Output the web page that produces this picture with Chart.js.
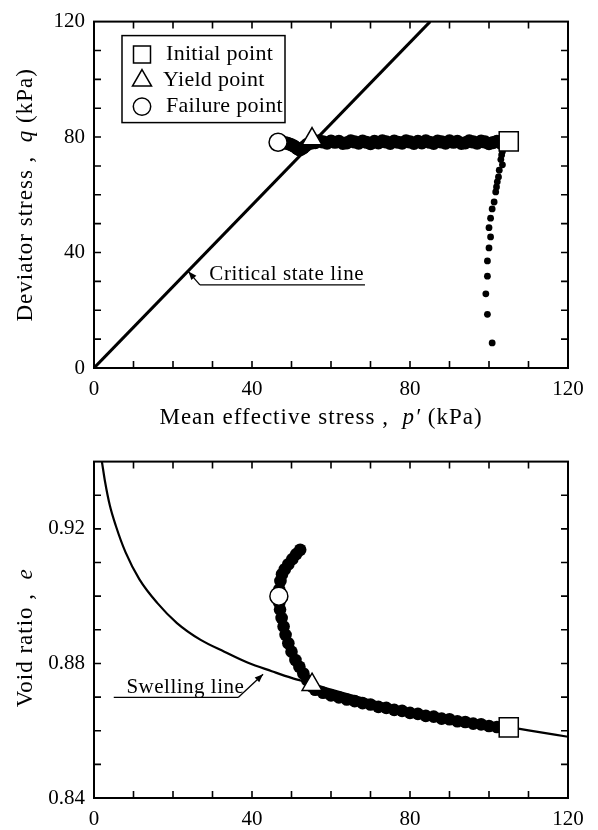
<!DOCTYPE html>
<html><head><meta charset="utf-8">
<script src="https://cdn.jsdelivr.net/npm/chart.js@4/dist/chart.umd.min.js"></script>
<style>
html,body{margin:0;padding:0;background:#fff;}
body{width:598px;height:830px;position:relative;overflow:hidden;}
canvas{position:absolute;left:0;}
</style>
</head><body>
<canvas id="c1" width="598" height="440" style="top:0px"></canvas>
<canvas id="c2" width="598" height="390" style="top:440px"></canvas>
<script>
// ---------- DATA ----------
const xTicksLabelled = [0, 40, 80, 120];
const qTicksLabelled = [0, 40, 80, 120];
const eTicksLabelled = [0.84, 0.88, 0.92];

const legendLabels = ['Initial point', 'Yield point', 'Failure point'];

// Top panel: p' (kPa), q (kPa)
const cslLine = [[0, 0], [85.1, 120]];
const loadPathTop = [[100.8, 8.7], [99.6, 18.6], [99.2, 25.7], [99.6, 31.8], [99.6, 37.1], [100.0, 41.6],
  [100.4, 45.4], [100.0, 48.6], [100.4, 51.9], [100.8, 55.1], [101.3, 57.5], [101.7, 61.0], [101.9, 62.7],
  [102.1, 64.5], [102.4, 66.2], [102.6, 68.5], [103.4, 70.4], [103.0, 72.2], [103.2, 73.8], [103.4, 75.0], [103.8, 76.5]];
const shearPathTop = [[104, 78.3], [103, 77.9], [102, 78.5], [101, 78.1], [100, 77.7], [99, 78.3], [98, 78.6],
  [97, 77.9], [96, 78.3], [95, 78.7], [94, 78.0], [93, 77.8], [92, 78.5], [91, 78.2], [90, 78.7], [89, 77.9],
  [88, 78.3], [87, 78.6], [86, 77.8], [85, 78.2], [84, 78.7], [83, 78.0], [82, 78.5], [81, 77.8], [80, 78.3],
  [79, 78.7], [78, 77.9], [77, 78.2], [76, 78.6], [75, 77.8], [74, 78.3], [73, 78.7], [72, 78.0], [71, 78.5],
  [70, 77.7], [69, 78.2], [68, 78.6], [67, 77.9], [66, 78.3], [65, 78.7], [64, 78.0], [63, 77.8], [62, 78.5],
  [61, 78.2], [60, 78.6], [59, 77.9], [58, 78.3], [57, 78.7], [56, 78.1], [55, 77.9], [54, 77.5], [53.5, 76.9],
  [53, 76.3], [52.5, 75.8], [52, 75.6], [51.5, 76.0], [51, 76.5], [50.5, 77.0], [50, 77.3], [49.5, 77.6],
  [49, 77.8], [48.5, 78.0], [48, 78.1], [47.5, 78.2]];
const initialTop = [105, 78.5];
const yieldTop = [55.2, 79.3];
const failureTop = [46.6, 78.2];

// Bottom panel: p' (kPa), e
const swellingLine = [[2.0, 0.940], [2.8, 0.934], [4.0, 0.927], [5.5, 0.921], [8.0, 0.913], [11.5, 0.905],
  [16, 0.898], [21, 0.892], [27, 0.887], [33, 0.8835], [39, 0.8802], [45, 0.8777], [50, 0.8757], [55, 0.8740],
  [60, 0.8722], [70, 0.8690], [80, 0.8663], [90, 0.8641], [100, 0.8621], [110, 0.8601], [120, 0.8582]];
const shearPathBottom = [[104, 0.8606], [102, 0.8611], [100, 0.8614], [98, 0.8619], [96, 0.8621], [94, 0.8626],
  [92, 0.8628], [90, 0.8634], [88, 0.8636], [86, 0.8642], [84, 0.8644], [82, 0.8650], [80, 0.8653], [78, 0.8659],
  [76, 0.8662], [74, 0.8668], [72, 0.8671], [70, 0.8678], [68, 0.8682], [66, 0.8688], [64, 0.8693], [62, 0.8699],
  [60, 0.8705], [58, 0.8713], [56, 0.8722], [55, 0.8733], [54, 0.8750], [53, 0.8770], [52, 0.8790], [51, 0.8810],
  [50, 0.8835], [49.2, 0.8860], [48.5, 0.8885], [48, 0.8910], [47.5, 0.8935], [47.1, 0.8960], [46.9, 0.8980],
  [46.8, 0.9000], [46.9, 0.9020], [47.2, 0.9045], [47.6, 0.9065], [48.3, 0.9080], [49.2, 0.9095], [50.2, 0.9110],
  [51.2, 0.9125], [52.2, 0.9138]];
const initialBottom = [105, 0.861];
const yieldBottom = [55.2, 0.8737];
const failureBottom = [46.8, 0.900];

// ---------- STYLE / LAYOUT ----------
const FAM = '"Liberation Serif", "Times New Roman", serif';
const toXY = a => a.map(d => ({x: d[0], y: d[1]}));

function markerSets(ini, yld, fail) {
  const base = {backgroundColor: '#fff', borderColor: '#000', borderWidth: 1.5, showLine: false};
  return [
    Object.assign({label: legendLabels[0], data: toXY([ini]), pointStyle: 'rect', pointRadius: 13.5}, base),
    Object.assign({label: legendLabels[1], data: toXY([yld]), pointStyle: 'triangle', pointRadius: 11.5}, base),
    Object.assign({label: legendLabels[2], data: toXY([fail]), pointStyle: 'circle', pointRadius: 9}, base)
  ];
}

function drawRich(ctx, segs, x, y, rot, size, spacing) {
  ctx.save();
  ctx.translate(x, y);
  ctx.rotate(rot);
  ctx.fillStyle = '#000';
  ctx.textBaseline = 'middle';
  ctx.textAlign = 'left';
  ctx.letterSpacing = spacing + 'px';
  let total = 0;
  const ws = segs.map(s => {
    ctx.font = (s[1] ? 'italic ' : '') + size + 'px ' + FAM;
    const w = ctx.measureText(s[0]).width;
    total += w;
    return w;
  });
  let cx = -total / 2;
  segs.forEach((s, i) => {
    ctx.font = (s[1] ? 'italic ' : '') + size + 'px ' + FAM;
    ctx.fillText(s[0], cx, 0);
    cx += ws[i];
  });
  ctx.restore();
}

const framePlugin = {
  id: 'frame',
  afterDatasetsDraw(chart) {
    const {ctx, chartArea: a, scales} = chart;
    const tl = 7;
    ctx.save();
    ctx.strokeStyle = '#000';
    ctx.lineWidth = 1.6;
    ctx.beginPath();
    scales.x.ticks.forEach(t => {
      const px = scales.x.getPixelForValue(t.value);
      if (Math.abs(px - a.left) < 1 || Math.abs(px - a.right) < 1) return;
      ctx.moveTo(px, a.bottom); ctx.lineTo(px, a.bottom - tl);
      ctx.moveTo(px, a.top); ctx.lineTo(px, a.top + tl);
    });
    scales.y.ticks.forEach(t => {
      const py = scales.y.getPixelForValue(t.value);
      if (Math.abs(py - a.top) < 1 || Math.abs(py - a.bottom) < 1) return;
      ctx.moveTo(a.left, py); ctx.lineTo(a.left + tl, py);
      ctx.moveTo(a.right, py); ctx.lineTo(a.right - tl, py);
    });
    ctx.stroke();
    ctx.lineWidth = 2;
    ctx.strokeRect(a.left, a.top, a.right - a.left, a.bottom - a.top);
    ctx.restore();
  }
};

const notesPlugin = {
  id: 'notes',
  afterDraw(chart, args, opts) {
    const {ctx, scales, chartArea: a} = chart;
    const X = v => scales.x.getPixelForValue(v), Y = v => scales.y.getPixelForValue(v);
    ctx.save();
    (opts.notes || []).forEach(n => {
      ctx.save();
      ctx.fillStyle = '#000';
      ctx.font = n.size + 'px ' + FAM;
      ctx.letterSpacing = n.spacing + 'px';
      ctx.textBaseline = 'alphabetic';
      ctx.textAlign = 'left';
      ctx.fillText(n.text, X(n.textAt[0]), Y(n.textAt[1]));
      ctx.restore();
      ctx.strokeStyle = '#000';
      ctx.fillStyle = '#000';
      ctx.lineWidth = 1.3;
      ctx.beginPath();
      ctx.moveTo(X(n.under[0]), Y(n.under[1]));
      ctx.lineTo(X(n.under[2]), Y(n.under[1]));
      ctx.stroke();
      // arrow
      const x0 = X(n.arrowFrom[0]), y0 = Y(n.arrowFrom[1]);
      const x1 = X(n.arrowTip[0]), y1 = Y(n.arrowTip[1]);
      ctx.beginPath(); ctx.moveTo(x0, y0); ctx.lineTo(x1, y1); ctx.stroke();
      const ang = Math.atan2(y1 - y0, x1 - x0), L = 9, W = 0.38;
      ctx.beginPath();
      ctx.moveTo(x1, y1);
      ctx.lineTo(x1 - L * Math.cos(ang - W), y1 - L * Math.sin(ang - W));
      ctx.lineTo(x1 - L * Math.cos(ang + W), y1 - L * Math.sin(ang + W));
      ctx.closePath(); ctx.fill();
    });
    (opts.titles || []).forEach(t => {
      const px = t.axis === 'x' ? (a.left + a.right) / 2 + t.dx : a.left + t.dx;
      const py = t.axis === 'x' ? a.bottom + t.dy : (a.top + a.bottom) / 2 + t.dy;
      drawRich(ctx, t.segs, px, py, t.axis === 'x' ? 0 : -Math.PI / 2, t.size, t.spacing);
    });
    if (opts.legend) {
      const L = opts.legend;
      const bx = a.left + L.left, by = a.top + L.top;
      ctx.lineWidth = 1.5;
      ctx.strokeStyle = '#000';
      ctx.strokeRect(bx, by, L.w, L.h);
      legendLabels.forEach((lab, i) => {
        const cy = by + L.row0 + i * L.rowH;
        const mx = bx + L.mx;
        ctx.fillStyle = '#fff';
        ctx.beginPath();
        if (i === 0) { ctx.rect(mx - 8.5, cy - 8.5, 17, 17); }
        else if (i === 1) { const r = 11; ctx.moveTo(mx, cy - r); ctx.lineTo(mx + r * 0.866, cy + r * 0.5); ctx.lineTo(mx - r * 0.866, cy + r * 0.5); ctx.closePath(); }
        else { ctx.arc(mx, cy, 8.7, 0, Math.PI * 2); }
        ctx.fill(); ctx.stroke();
        ctx.save();
        ctx.fillStyle = '#000';
        ctx.font = L.size + 'px ' + FAM;
        ctx.letterSpacing = L.spacing + 'px';
        ctx.textBaseline = 'middle';
        ctx.textAlign = 'left';
        ctx.fillText(lab, bx + L.tx[i], cy);
        ctx.restore();
      });
    }
    ctx.restore();
  }
};

function axisOpts(min, max, step, labelled, fmt, fitFn, pad) {
  return {
    type: 'linear', min: min, max: max, afterFit: fitFn,
    grid: {display: false, drawTicks: false}, border: {display: false},
    ticks: {
      stepSize: step, autoSkip: false, maxRotation: 0, padding: pad, color: '#000',
      font: {family: FAM, size: 21},
      callback: v => labelled.some(l => Math.abs(l - v) < 1e-6) ? fmt(v) : ''
    }
  };
}

// ---------- TOP CHART ----------
new Chart(document.getElementById('c1'), {
  type: 'scatter',
  data: {
    datasets: markerSets(initialTop, yieldTop, failureTop).concat([
      {label: 'shear', data: toXY(shearPathTop), pointRadius: 6.6, backgroundColor: '#000', borderWidth: 0, showLine: false},
      {label: 'load', data: toXY(loadPathTop), pointRadius: 3.4, backgroundColor: '#000', borderWidth: 0, showLine: false},
      {label: 'CSL', data: toXY(cslLine), showLine: true, borderColor: '#000', borderWidth: 3, pointRadius: 0, fill: false}
    ])
  },
  options: {
    responsive: false, animation: false, devicePixelRatio: 1, events: [],
    layout: {padding: {left: 0, right: 30, top: 18, bottom: 0}},
    plugins: {
      legend: {display: false}, tooltip: {enabled: false},
      notes: {
        notes: [{text: 'Critical state line', size: 21, spacing: 0.6, textAt: [29.2, 30.6], under: [26.8, 28.8, 68.6],
                 arrowFrom: [26.8, 28.8], arrowTip: [23.9, 33.4]}],
        titles: [
          {axis: 'x', dx: -10, dy: 50, size: 23, spacing: 1, segs: [['Mean effective stress ,  ', false], ['p\u2032', true], [' (kPa)', false]]},
          {axis: 'y', dx: -68, dy: 0, size: 23, spacing: 1, segs: [['Deviator stress ,  ', false], ['q', true], [' (kPa)', false]]}
        ],
        legend: {left: 28, top: 14, w: 163, h: 87, row0: 19, rowH: 26, mx: 20, tx: [44, 41, 44], size: 22, spacing: 0.3}
      }
    },
    scales: {
      x: axisOpts(0, 120, 10, xTicksLabelled, v => String(v), s => { s.height = 72; }, 9),
      y: axisOpts(0, 120, 10, qTicksLabelled, v => String(v), s => { s.width = 94; }, 9)
    }
  },
  plugins: [framePlugin, notesPlugin]
});

// ---------- BOTTOM CHART ----------
new Chart(document.getElementById('c2'), {
  type: 'scatter',
  data: {
    datasets: markerSets(initialBottom, yieldBottom, failureBottom).concat([
      {label: 'shear', data: toXY(shearPathBottom), pointRadius: 6.3, backgroundColor: '#000', borderWidth: 0, showLine: false},
      {label: 'swelling', data: toXY(swellingLine), showLine: true, borderColor: '#000', borderWidth: 2.2, pointRadius: 0,
       cubicInterpolationMode: 'monotone', fill: false}
    ])
  },
  options: {
    responsive: false, animation: false, devicePixelRatio: 1, events: [],
    layout: {padding: {left: 0, right: 30, top: 10, bottom: 0}},
    plugins: {
      legend: {display: false}, tooltip: {enabled: false},
      notes: {
        notes: [{text: 'Swelling line', size: 21, spacing: 0.5, textAt: [8.2, 0.8713], under: [5.0, 0.8699, 36.5],
                 arrowFrom: [36.5, 0.8699], arrowTip: [42.8, 0.8768]}],
        titles: [
          {axis: 'y', dx: -68, dy: 8, size: 23, spacing: 1, segs: [['Void ratio ,  ', false], ['e', true]]}
        ]
      }
    },
    scales: {
      x: axisOpts(0, 120, 10, xTicksLabelled, v => String(v), s => { s.height = 32; }, 9),
      y: axisOpts(0.84, 0.94, 0.01, eTicksLabelled, v => v.toFixed(2), s => { s.width = 94; }, 9)
    }
  },
  plugins: [framePlugin, notesPlugin]
});
</script>
</body></html>
